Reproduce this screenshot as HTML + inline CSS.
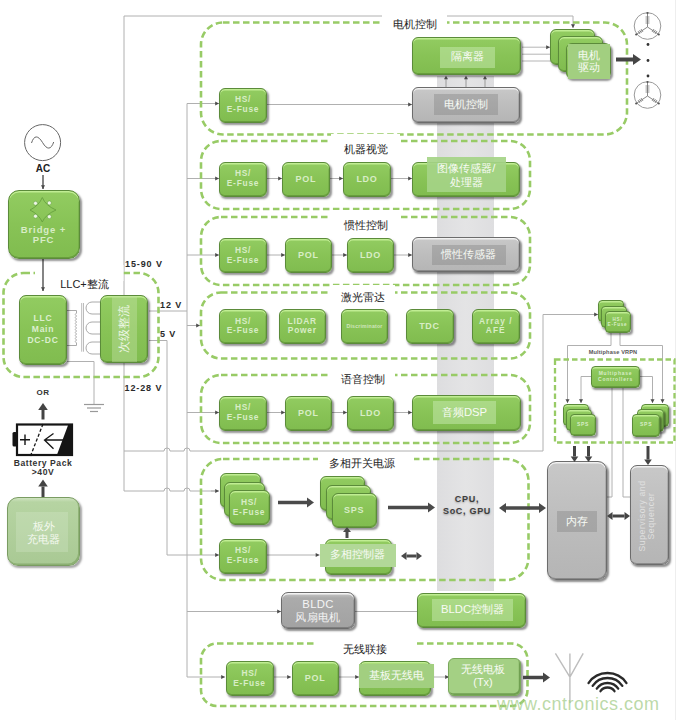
<!DOCTYPE html>
<html><head><meta charset="utf-8"><style>
*{margin:0;padding:0;box-sizing:border-box}
html,body{width:680px;height:720px;overflow:hidden;background:#fff;font-family:"Liberation Sans",sans-serif}
#root{position:relative;width:680px;height:720px;overflow:hidden;background:#fff}
svg{position:absolute;left:0;top:0}
.t{position:absolute;white-space:nowrap;font-family:"Liberation Sans",sans-serif}
.g,.gr,.lgb{position:absolute;display:flex;align-items:center;justify-content:center;text-align:center}
.g{background:linear-gradient(180deg,#92cc61 0%,#88c356 50%,#80bc4f 100%);border:1.5px solid #5b8b3a;box-shadow:inset 0 1.6px 0 rgba(195,238,150,.95),inset -0.5px -1px 0 rgba(60,100,30,.35),1.5px 2px 2px rgba(0,0,0,.42)}
.gr{background:linear-gradient(180deg,#c8c8c8 0%,#bdbdbd 50%,#b5b5b5 100%);border:1.5px solid #6c6c6c;box-shadow:inset 0 1.6px 0 rgba(245,245,245,.9),inset -0.5px -1px 0 rgba(60,60,60,.35),1.5px 2px 2px rgba(0,0,0,.45)}
.lgb{background:linear-gradient(180deg,#cfe3c0 0px,#b6d4a2 4px,#a9c994 100%);border:1px solid #7a9c62;box-shadow:inset -1px -1.5px 0 rgba(110,150,80,.5),1.5px 2px 2px rgba(0,0,0,.35)}
.g span,.gr span,.lgb span{font-weight:bold;color:#d8edc6;line-height:1.16;white-space:nowrap;letter-spacing:0.75px}
.lg,.lgr,.lgf,.lgf2,.lg0,.lgi{position:absolute;display:flex;align-items:center;justify-content:center;text-align:center}
.lg{background:rgba(195,232,170,0.55)}
.lgr{background:rgba(125,125,125,0.36)}
.lgf{background:#a2cf80}
.lgf2{background:#b2d898}
.lgi{background:rgba(165,212,135,0.92)}
.gl{position:absolute;background:#a4d084;border:1px solid #79a85a;box-shadow:inset -1.2px -1.8px 0.5px rgba(70,120,40,.55),1.5px 2px 2px rgba(0,0,0,.4)}
.lg0{background:transparent}
.lg span,.lgr span,.lgf span,.lgf2 span,.lg0 span,.lgi span{color:#f8fbf5;white-space:nowrap;line-height:1.2}
</style></head>
<body><div id="root">
<div style="position:absolute;left:437px;top:76px;width:57px;height:515px;background:linear-gradient(90deg,#dddddf,#e4e4e5 50%,#dedee0);"></div>
<svg width="680" height="720" viewBox="0 0 680 720"><line x1="675.5" y1="0" x2="675.5" y2="720" stroke="#eeeeee" stroke-width="1"/><polyline points="124,16 124,491" fill="none" stroke="#b0b0b0" stroke-width="1"/><polyline points="124,16 573,16 573,28" fill="none" stroke="#b0b0b0" stroke-width="1"/><polygon points="573,28 571.00,24.20 575.00,24.20" fill="#4a4a4a"/><polyline points="187,103.5 187,677" fill="none" stroke="#b0b0b0" stroke-width="1"/><polyline points="187,103.5 219,103.5" fill="none" stroke="#b0b0b0" stroke-width="1"/><polygon points="219,103.5 215.20,105.50 215.20,101.50" fill="#4a4a4a"/><polyline points="267,104.5 412,104.5" fill="none" stroke="#b0b0b0" stroke-width="1"/><polygon points="412,104.5 408.20,106.50 408.20,102.50" fill="#4a4a4a"/><polyline points="187,178.5 219,178.5" fill="none" stroke="#b0b0b0" stroke-width="1"/><polygon points="219,178.5 215.20,180.50 215.20,176.50" fill="#4a4a4a"/><polyline points="267,178.5 282,178.5" fill="none" stroke="#b0b0b0" stroke-width="1"/><polygon points="282,178.5 278.20,180.50 278.20,176.50" fill="#4a4a4a"/><polyline points="330,178.5 343,178.5" fill="none" stroke="#b0b0b0" stroke-width="1"/><polygon points="343,178.5 339.20,180.50 339.20,176.50" fill="#4a4a4a"/><polyline points="391,178.5 412,178.5" fill="none" stroke="#b0b0b0" stroke-width="1"/><polygon points="412,178.5 408.20,180.50 408.20,176.50" fill="#4a4a4a"/><polyline points="187,255 219,255" fill="none" stroke="#b0b0b0" stroke-width="1"/><polygon points="219,255 215.20,257.00 215.20,253.00" fill="#4a4a4a"/><polyline points="267,255 285,255" fill="none" stroke="#b0b0b0" stroke-width="1"/><polygon points="285,255 281.20,257.00 281.20,253.00" fill="#4a4a4a"/><polyline points="332,255 347,255" fill="none" stroke="#b0b0b0" stroke-width="1"/><polygon points="347,255 343.20,257.00 343.20,253.00" fill="#4a4a4a"/><polyline points="394,255 412,255" fill="none" stroke="#b0b0b0" stroke-width="1"/><polygon points="412,255 408.20,257.00 408.20,253.00" fill="#4a4a4a"/><polyline points="187,325.5 200,325.5" fill="none" stroke="#b0b0b0" stroke-width="1"/><polygon points="200,325.5 196.20,327.50 196.20,323.50" fill="#4a4a4a"/><polyline points="187,412.5 219,412.5" fill="none" stroke="#b0b0b0" stroke-width="1"/><polygon points="219,412.5 215.20,414.50 215.20,410.50" fill="#4a4a4a"/><polyline points="267,412.5 285,412.5" fill="none" stroke="#b0b0b0" stroke-width="1"/><polygon points="285,412.5 281.20,414.50 281.20,410.50" fill="#4a4a4a"/><polyline points="332,412.5 347,412.5" fill="none" stroke="#b0b0b0" stroke-width="1"/><polygon points="347,412.5 343.20,414.50 343.20,410.50" fill="#4a4a4a"/><polyline points="394,412.5 412,412.5" fill="none" stroke="#b0b0b0" stroke-width="1"/><polygon points="412,412.5 408.20,414.50 408.20,410.50" fill="#4a4a4a"/><polyline points="149,311 187,311" fill="none" stroke="#b0b0b0" stroke-width="1"/><polyline points="149,340.5 167,340.5 167,555 219,555" fill="none" stroke="#b0b0b0" stroke-width="1"/><polygon points="219,555 215.20,557.00 215.20,553.00" fill="#4a4a4a"/><path d="M124,451 H164 A3,3 0 0 1 170,451 H184 A3,3 0 0 1 190,451 H543 V314.5 H594" fill="none" stroke="#b0b0b0" stroke-width="1"/><polyline points="590,314.5 598,314.5" fill="none" stroke="#b0b0b0" stroke-width="1"/><polygon points="598,314.5 594.20,316.50 594.20,312.50" fill="#4a4a4a"/><path d="M124,491 H164 A3,3 0 0 1 170,491 H184 A3,3 0 0 1 190,491 H215" fill="none" stroke="#b0b0b0" stroke-width="1"/><polyline points="211,491 219,491" fill="none" stroke="#b0b0b0" stroke-width="1"/><polygon points="219,491 215.20,493.00 215.20,489.00" fill="#4a4a4a"/><polyline points="187,611.5 281,611.5" fill="none" stroke="#b0b0b0" stroke-width="1"/><polygon points="281,611.5 277.20,613.50 277.20,609.50" fill="#4a4a4a"/><polyline points="267,555 319.5,555" fill="none" stroke="#b0b0b0" stroke-width="1"/><polygon points="319.5,555 315.70,557.00 315.70,553.00" fill="#4a4a4a"/><polyline points="355,611.5 417,611.5" fill="none" stroke="#b0b0b0" stroke-width="1"/><polyline points="187,677 225,677" fill="none" stroke="#b0b0b0" stroke-width="1"/><polygon points="225,677 221.20,679.00 221.20,675.00" fill="#4a4a4a"/><polyline points="274,677 291,677" fill="none" stroke="#b0b0b0" stroke-width="1"/><polygon points="291,677 287.20,679.00 287.20,675.00" fill="#4a4a4a"/><polyline points="339,677 359,677" fill="none" stroke="#b0b0b0" stroke-width="1"/><polygon points="359,677 355.20,679.00 355.20,675.00" fill="#4a4a4a"/><polyline points="432,677 449,677" fill="none" stroke="#b0b0b0" stroke-width="1"/><polygon points="449,677 445.20,679.00 445.20,675.00" fill="#4a4a4a"/><polyline points="522,47.2 550,47.2" fill="none" stroke="#b5b5b5" stroke-width="1"/><polygon points="550,47.2 546.20,49.20 546.20,45.20" fill="#4a4a4a"/><polyline points="522,54.2 551,54.2" fill="none" stroke="#b5b5b5" stroke-width="1"/><polyline points="522,61 551,61" fill="none" stroke="#b5b5b5" stroke-width="1"/><path d="M67,310.5 H76.5 V313 q-2.5,1.5 0,3 q-2.5,1.5 0,3 q-2.5,1.5 0,3 q-2.5,1.5 0,3 q-2.5,1.5 0,3 q-2.5,1.5 0,3 q-2.5,1.5 0,3 q-2.5,1.5 0,3 q-2.5,1.5 0,3 q-2.5,1.5 0,3 V345.5 H67" fill="none" stroke="#aaa" stroke-width="1"/><path d="M81.7,303 V351.7 M83.5,303 V351.7" stroke="#bbb" stroke-width="1"/><path d="M100,302 H92 A6,6 0 0 0 92,314 H100" fill="none" stroke="#aaa" stroke-width="1"/><path d="M100,322 H92 A6,6 0 0 0 92,334 H100" fill="none" stroke="#aaa" stroke-width="1"/><path d="M100,342 H92 A6,6 0 0 0 92,354 H100" fill="none" stroke="#aaa" stroke-width="1"/><polyline points="67,361.5 94,361.5 94,404" fill="none" stroke="#b0b0b0" stroke-width="1"/><line x1="84" y1="404.5" x2="104" y2="404.5" stroke="#999" stroke-width="1.2"/><line x1="87" y1="408" x2="101" y2="408" stroke="#999" stroke-width="1.2"/><line x1="90" y1="411.5" x2="98" y2="411.5" stroke="#999" stroke-width="1.2"/><polyline points="611,332 611,345.5 567.5,345.5 567.5,403" fill="none" stroke="#b0b0b0" stroke-width="1"/><polygon points="567.5,403 565.50,399.20 569.50,399.20" fill="#4a4a4a"/><polyline points="620,332 620,345.5 662.5,345.5 662.5,403" fill="none" stroke="#b0b0b0" stroke-width="1"/><polygon points="662.5,403 660.50,399.20 664.50,399.20" fill="#4a4a4a"/><polyline points="591,376.5 581,376.5 581,403" fill="none" stroke="#b0b0b0" stroke-width="1"/><polygon points="581,403 579.00,399.20 583.00,399.20" fill="#4a4a4a"/><polyline points="640,376.5 652.5,376.5 652.5,403" fill="none" stroke="#b0b0b0" stroke-width="1"/><polygon points="652.5,403 650.50,399.20 654.50,399.20" fill="#4a4a4a"/><polyline points="612,388 612,497 607,497" fill="none" stroke="#b0b0b0" stroke-width="1"/><polyline points="623,388 623,497 630,497" fill="none" stroke="#b0b0b0" stroke-width="1"/><rect x="201" y="22.5" width="426" height="112" rx="22" ry="22" fill="none" stroke="#98cb66" stroke-width="2.6" stroke-dasharray="6.5 3.5"/><rect x="201" y="141" width="329" height="68" rx="20" ry="20" fill="none" stroke="#98cb66" stroke-width="2.6" stroke-dasharray="6.5 3.5"/><rect x="201" y="217" width="329" height="68" rx="20" ry="20" fill="none" stroke="#98cb66" stroke-width="2.6" stroke-dasharray="6.5 3.5"/><rect x="201" y="292.5" width="329" height="66" rx="20" ry="20" fill="none" stroke="#98cb66" stroke-width="2.6" stroke-dasharray="6.5 3.5"/><rect x="201" y="375" width="329" height="68" rx="20" ry="20" fill="none" stroke="#98cb66" stroke-width="2.6" stroke-dasharray="6.5 3.5"/><rect x="201" y="459" width="327.5" height="121" rx="22" ry="22" fill="none" stroke="#98cb66" stroke-width="2.6" stroke-dasharray="6.5 3.5"/><rect x="201" y="643.5" width="326.5" height="62.5" rx="16" ry="16" fill="none" stroke="#98cb66" stroke-width="2.6" stroke-dasharray="6.5 3.5"/><rect x="3.5" y="273" width="155" height="104" rx="20" ry="20" fill="none" stroke="#98cb66" stroke-width="2.6" stroke-dasharray="6.5 3.5"/><rect x="555" y="359.5" width="119.5" height="83" fill="none" stroke="#98cb66" stroke-width="2.3" stroke-dasharray="5.5 3"/><rect x="382" y="8" width="65" height="26" fill="#fff"/><rect x="331" y="134" width="69" height="16" fill="#fff"/><rect x="331" y="210" width="69" height="16" fill="#fff"/><rect x="331" y="285" width="64" height="16" fill="#fff"/><rect x="331" y="368" width="64" height="16" fill="#fff"/><rect x="318" y="452" width="96" height="16" fill="#fff"/><rect x="315" y="636" width="102" height="16" fill="#fff"/><rect x="35" y="265" width="88.5" height="16" fill="#fff"/><circle cx="42.6" cy="142.6" r="18" fill="#fff" stroke="#666" stroke-width="1"/><path d="M31.5,143 C34,135 38,135 42.6,142.6 C47,150 51,150 53.7,142" fill="none" stroke="#666" stroke-width="1"/><polyline points="43,175 43,189" fill="none" stroke="#333" stroke-width="1.2"/><polygon points="43,189 41.00,185.20 45.00,185.20" fill="#4a4a4a"/><polyline points="43,259 43,291" fill="none" stroke="#333" stroke-width="1.2"/><polygon points="43,291 41.00,287.20 45.00,287.20" fill="#4a4a4a"/><rect x="17" y="424.5" width="55" height="30.5" fill="#fff" stroke="#151515" stroke-width="2.2"/><polygon points="68.5,424 73,424 73,456 56.5,456" fill="#151515"/><rect x="12.5" y="432" width="4.5" height="14.5" rx="1.5" fill="#151515"/><path d="M20,439.7 H30 M25,434.5 V445" stroke="#151515" stroke-width="1.4" fill="none"/><path d="M43,424 L30.5,456" stroke="#151515" stroke-width="1.3" stroke-dasharray="3.2 2" fill="none"/><path d="M53.5,433.5 L44.5,440 L53.5,448.7 M44.5,440 H63" stroke="#151515" stroke-width="1.3" fill="none"/><circle cx="647.5" cy="26" r="13.3" fill="none" stroke="#9a9a9a" stroke-width="1"/><path d="M647.5,27 V13 M647.5,27 L636.2,34.5 M647.5,27 L658.8,34.5" stroke="#888" stroke-width="1"/><path d="M645.5,17 h4 M645.5,19 h4 M645.5,21 h4 M645.5,23 h4" stroke="#777" stroke-width="0.8"/><path d="M641,29 l2,3 M639.5,30 l2,3 M638,31 l2,3 M654,29 l-2,3 M655.5,30 l-2,3 M657,31 l-2,3" stroke="#777" stroke-width="0.8"/><circle cx="647.5" cy="13" r="1.1" fill="#555"/><circle cx="636.2" cy="34.5" r="1.1" fill="#555"/><circle cx="658.8" cy="34.5" r="1.1" fill="#555"/><circle cx="647.5" cy="95" r="13.3" fill="none" stroke="#9a9a9a" stroke-width="1"/><path d="M647.5,96 V82 M647.5,96 L636.2,103.5 M647.5,96 L658.8,103.5" stroke="#888" stroke-width="1"/><path d="M645.5,86 h4 M645.5,88 h4 M645.5,90 h4 M645.5,92 h4" stroke="#777" stroke-width="0.8"/><path d="M641,98 l2,3 M639.5,99 l2,3 M638,100 l2,3 M654,98 l-2,3 M655.5,99 l-2,3 M657,100 l-2,3" stroke="#777" stroke-width="0.8"/><circle cx="647.5" cy="82" r="1.1" fill="#555"/><circle cx="636.2" cy="103.5" r="1.1" fill="#555"/><circle cx="658.8" cy="103.5" r="1.1" fill="#555"/><circle cx="648" cy="44.5" r="1.4" fill="#333"/><circle cx="648" cy="60.5" r="1.4" fill="#333"/><circle cx="648" cy="76" r="1.4" fill="#333"/><path d="M569.9,703 V653.4 M555.4,653.4 L569.9,677 L583.2,653.4" stroke="#bdbdbd" stroke-width="1.4" fill="none"/><path d="M588.50,683.04 A23,23 0 0 1 626.50,683.04" stroke="#2a2a2a" stroke-width="2.3" fill="none" stroke-linecap="round"/><path d="M592.63,685.86 A18,18 0 0 1 622.37,685.86" stroke="#2a2a2a" stroke-width="2.3" fill="none" stroke-linecap="round"/><path d="M596.76,688.67 A13,13 0 0 1 618.24,688.67" stroke="#2a2a2a" stroke-width="2.3" fill="none" stroke-linecap="round"/><path d="M600.48,691.21 A8.5,8.5 0 0 1 614.52,691.21" stroke="#2a2a2a" stroke-width="2.3" fill="none" stroke-linecap="round"/></svg>
<div class="t" style="left:23px;top:163px;font-size:10px;width:40px;text-align:center;font-weight:bold;color:#222;">AC</div><div class="g" style="left:7.5px;top:190px;width:72px;height:69px;border-radius:11px;"><span style="font-size:8.4px;"></span></div><div class="t" style="left:7.5px;top:224.5px;font-size:9.5px;width:72px;text-align:center;font-weight:bold;color:#d8edc6;line-height:10.5px;letter-spacing:0.9px;">Bridge +<br>PFC</div><div class="g" style="left:19px;top:294.5px;width:48px;height:70px;border-radius:7px;"><span style="font-size:8.5px;line-height:11px;color:#dcefcf">LLC<br>Main<br>DC-DC</span></div><div class="g" style="left:100px;top:295px;width:48px;height:68px;border-radius:7px;"><span style="font-size:8.4px;"></span></div><div style="position:absolute;left:112px;top:296px;width:25px;height:66px;background:rgba(190,225,160,0.45);"></div><div class="t" style="left:94px;top:321px;width:60px;height:16px;font-size:12px;color:#eef7e6;text-align:center;transform:rotate(-90deg);">次级整流</div><div class="t" style="left:59px;top:277px;font-size:11px;width:51px;text-align:center;color:#222;">LLC+整流</div><div class="t" style="left:125px;top:259px;font-size:9px;text-align:left;font-weight:bold;color:#2a2a2a;letter-spacing:0.9px;">15-90 V</div><div class="t" style="left:160px;top:300px;font-size:9px;text-align:left;font-weight:bold;color:#2a2a2a;letter-spacing:0.9px;">12 V</div><div class="t" style="left:160px;top:329px;font-size:9px;text-align:left;font-weight:bold;color:#2a2a2a;letter-spacing:0.9px;">5 V</div><div class="t" style="left:124.5px;top:382.5px;font-size:9px;text-align:left;font-weight:bold;color:#2a2a2a;letter-spacing:0.9px;">12-28 V</div><div class="t" style="left:23px;top:388px;font-size:8px;width:40px;text-align:center;font-weight:bold;color:#333;letter-spacing:0.6px;">OR</div><div class="t" style="left:0px;top:458.5px;font-size:8.6px;width:86px;text-align:center;font-weight:bold;color:#333;line-height:9.5px;letter-spacing:0.55px;">Battery Pack<br>&gt;40V</div><div class="lgb" style="left:7px;top:497px;width:73px;height:69px;border-radius:11px;"><span style="font-size:8.4px;"></span></div><div style="position:absolute;left:16px;top:512px;width:52px;height:40px;background:rgba(225,238,215,0.25);"></div><div class="t" style="left:7px;top:519.5px;font-size:11.3px;width:73px;text-align:center;color:#f4f9ef;line-height:13.5px;">板外<br>充电器</div><div class="g" style="left:219px;top:87.5px;width:48px;height:35px;border-radius:6px;"><span style="font-size:8.4px;">HS/<br>E-Fuse</span></div><div class="g" style="left:412px;top:37px;width:109px;height:38px;border-radius:6px;"><span style="font-size:8.4px;"></span></div><div class="lg" style="left:439.5px;top:46.5px;width:55.5px;height:21px;"><span style="font-size:11.3px;">隔离器</span></div><div class="gr" style="left:412px;top:87px;width:108px;height:35.5px;border-radius:6px;"><span style="font-size:8.4px;"></span></div><div class="lgr" style="left:434px;top:94px;width:64px;height:21px;"><span style="font-size:11.3px;">电机控制</span></div><div class="g" style="left:550.0px;top:29.0px;width:45px;height:36px;border-radius:6px;"><span style="font-size:8.4px;"></span></div><div class="g" style="left:557.8px;top:36.2px;width:45px;height:36px;border-radius:6px;"><span style="font-size:8.4px;"></span></div><div class="g" style="left:565.6px;top:43.4px;width:45px;height:36px;border-radius:6px;"><span style="font-size:8.4px;"></span></div><div class="lgf" style="left:567.5px;top:43.5px;width:42px;height:35px;"><span style="font-size:11px;line-height:12.4px">电机<br>驱动</span></div><div class="t" style="left:382px;top:16.5px;font-size:11px;width:65px;text-align:center;color:#222;">电机控制</div><div class="g" style="left:219px;top:161.5px;width:48px;height:35px;border-radius:6px;"><span style="font-size:8.4px;">HS/<br>E-Fuse</span></div><div class="g" style="left:282px;top:161.5px;width:48px;height:35px;border-radius:6px;"><span style="font-size:9px;">POL</span></div><div class="g" style="left:343px;top:161.5px;width:48px;height:35px;border-radius:6px;"><span style="font-size:9px;">LDO</span></div><div class="g" style="left:412px;top:161.5px;width:108px;height:35px;border-radius:6px;"><span style="font-size:8.4px;"></span></div><div class="lgi" style="left:427px;top:157px;width:78.5px;height:35px;"><span style="font-size:11.3px;line-height:14px">图像传感器/<br>处理器</span></div><div class="t" style="left:331px;top:141.5px;font-size:11px;width:69px;text-align:center;color:#222;">机器视觉</div><div class="g" style="left:219px;top:238px;width:48px;height:35px;border-radius:6px;"><span style="font-size:8.4px;">HS/<br>E-Fuse</span></div><div class="g" style="left:285px;top:238px;width:47px;height:35px;border-radius:6px;"><span style="font-size:9px;">POL</span></div><div class="g" style="left:347px;top:238px;width:47px;height:35px;border-radius:6px;"><span style="font-size:9px;">LDO</span></div><div class="gr" style="left:412px;top:237px;width:108px;height:35px;border-radius:6px;"><span style="font-size:8.4px;"></span></div><div class="lgr" style="left:432px;top:245px;width:73.5px;height:20px;"><span style="font-size:11.3px;">惯性传感器</span></div><div class="t" style="left:331px;top:218px;font-size:11px;width:69px;text-align:center;color:#222;">惯性控制</div><div class="g" style="left:219px;top:309px;width:48px;height:34.5px;border-radius:6px;"><span style="font-size:8.4px;">HS/<br>E-Fuse</span></div><div class="g" style="left:278.5px;top:309px;width:47.5px;height:34.5px;border-radius:6px;"><span style="font-size:8.4px;">LIDAR<br>Power</span></div><div class="g" style="left:341px;top:309px;width:47px;height:34.5px;border-radius:6px;"><span style="font-size:5.2px;letter-spacing:0.2px;color:#cfe6bd">Discriminator</span></div><div class="g" style="left:405.5px;top:309px;width:48px;height:34.5px;border-radius:6px;"><span style="font-size:9px;">TDC</span></div><div class="g" style="left:472px;top:309px;width:47.5px;height:34.5px;border-radius:6px;"><span style="font-size:8.4px;letter-spacing:1px">Array /<br>AFE</span></div><div class="t" style="left:331px;top:290px;font-size:11px;width:64px;text-align:center;color:#222;">激光雷达</div><div class="g" style="left:219px;top:395.5px;width:48px;height:35px;border-radius:6px;"><span style="font-size:8.4px;">HS/<br>E-Fuse</span></div><div class="g" style="left:285px;top:395.5px;width:47px;height:35px;border-radius:6px;"><span style="font-size:9px;">POL</span></div><div class="g" style="left:347px;top:395.5px;width:47px;height:35px;border-radius:6px;"><span style="font-size:9px;">LDO</span></div><div class="g" style="left:411.5px;top:394.5px;width:109px;height:36px;border-radius:6px;"><span style="font-size:8.4px;"></span></div><div class="lg" style="left:433px;top:401px;width:63px;height:23px;"><span style="font-size:11.3px;">音频DSP</span></div><div class="t" style="left:331px;top:371.5px;font-size:11px;width:64px;text-align:center;color:#222;">语音控制</div><div class="g" style="left:219.5px;top:473.0px;width:41px;height:35px;border-radius:6px;"><span style="font-size:8.4px;"></span></div><div class="g" style="left:224.0px;top:481.5px;width:41px;height:35px;border-radius:6px;"><span style="font-size:8.4px;"></span></div><div class="g" style="left:228.5px;top:490.0px;width:41px;height:35px;border-radius:6px;"><span style="font-size:8.4px;">HS/<br>E-Fuse</span></div><div class="g" style="left:219px;top:538.5px;width:48px;height:35px;border-radius:6px;"><span style="font-size:8.4px;">HS/<br>E-Fuse</span></div><div class="g" style="left:320px;top:476.0px;width:44.5px;height:35px;border-radius:6px;"><span style="font-size:9px;"></span></div><div class="g" style="left:326px;top:484.5px;width:44.5px;height:35px;border-radius:6px;"><span style="font-size:9px;"></span></div><div class="g" style="left:332px;top:493.0px;width:44.5px;height:35px;border-radius:6px;"><span style="font-size:9px;">SPS</span></div><div class="g" style="left:324.5px;top:539px;width:67.5px;height:35.5px;border-radius:6px;"><span style="font-size:8.4px;"></span></div><div class="lgf2" style="left:319.5px;top:543.5px;width:76px;height:23.5px;"><span style="font-size:11.3px;">多相控制器</span></div><div class="t" style="left:314px;top:455.5px;font-size:11px;width:96px;text-align:center;color:#222;">多相开关电源</div><div class="t" style="left:428px;top:494px;font-size:9px;width:78px;text-align:center;font-weight:bold;color:#3e3e3e;line-height:11.5px;letter-spacing:0.7px;text-shadow:0 1px 2px rgba(0,0,0,.3);">CPU,<br>SoC, GPU</div><div class="g" style="left:597.5px;top:300.0px;width:26px;height:22px;border-radius:4px;"><span style="font-size:4.6px;"></span></div><div class="g" style="left:601.0px;top:305.5px;width:26px;height:22px;border-radius:4px;"><span style="font-size:4.6px;"></span></div><div class="g" style="left:604.5px;top:311.0px;width:26px;height:22px;border-radius:4px;"><span style="font-size:4.6px;">HS/<br>E-Fuse</span></div><div class="t" style="left:578px;top:348.5px;font-size:5.6px;width:70px;text-align:center;font-weight:bold;color:#555;letter-spacing:0.15px;">Multiphase VRPN</div><div class="g" style="left:591px;top:366px;width:49px;height:21.5px;border-radius:4px;"><span style="font-size:5px;">Multiphase<br>Controllers</span></div><div class="g" style="left:562.5px;top:404px;width:26px;height:22px;border-radius:4px;"><span style="font-size:5px;"></span></div><div class="g" style="left:566.3px;top:409px;width:26px;height:22px;border-radius:4px;"><span style="font-size:5px;"></span></div><div class="g" style="left:570.1px;top:414px;width:26px;height:22px;border-radius:4px;"><span style="font-size:5px;">SPS</span></div><div class="g" style="left:641px;top:404px;width:27.5px;height:22.5px;border-radius:4px;"><span style="font-size:5px;"></span></div><div class="g" style="left:636.7px;top:409px;width:27.5px;height:22.5px;border-radius:4px;"><span style="font-size:5px;"></span></div><div class="g" style="left:632.4px;top:414px;width:27.5px;height:22.5px;border-radius:4px;"><span style="font-size:5px;">SPS</span></div><div class="gr" style="left:547px;top:461px;width:60px;height:119px;border-radius:9px;"><span style="font-size:8.4px;"></span></div><div class="lgr" style="left:556.5px;top:511px;width:40.5px;height:21px;"><span style="font-size:11.3px;">内存</span></div><div class="gr" style="left:630px;top:465px;width:39px;height:100px;border-radius:7px;"><span style="font-size:8.4px;"></span></div><div class="t" style="left:598px;top:505.5px;width:100px;height:20px;font-size:8.6px;line-height:9px;color:#e0e0e0;text-align:center;letter-spacing:0.6px;transform:rotate(-90deg);">Supervisory and<br>Sequencer</div><div class="gr" style="left:281px;top:592px;width:74px;height:37px;border-radius:7px;background:linear-gradient(180deg,#dadada 0px,#bcbcbc 2px,#ababab 5px,#a6a6a6 60%,#a2a2a2 100%);"><span style="font-size:11.3px;font-weight:normal;line-height:13px;color:#f4f4f4;letter-spacing:0.3px">BLDC<br>风扇电机</span></div><div class="g" style="left:417px;top:592.5px;width:108.5px;height:35px;border-radius:6px;"><span style="font-size:8.4px;"></span></div><div class="lg" style="left:432px;top:598.5px;width:81px;height:22.5px;"><span style="font-size:11.3px;">BLDC控制器</span></div><div class="g" style="left:225.5px;top:661px;width:48px;height:35px;border-radius:6px;"><span style="font-size:8.4px;">HS/<br>E-Fuse</span></div><div class="g" style="left:291.5px;top:661px;width:47.5px;height:35px;border-radius:6px;"><span style="font-size:9px;">POL</span></div><div class="g" style="left:359px;top:661px;width:72px;height:35px;border-radius:6px;"><span style="font-size:8.4px;"></span></div><div class="lgf" style="left:359px;top:663.5px;width:74.5px;height:24.5px;"><span style="font-size:11px;">基板无线电</span></div><div class="gl" style="left:448px;top:658px;width:72.5px;height:37.5px;border-radius:6px;"><span style="font-size:8.4px;"></span></div><div class="lg0" style="left:449px;top:659px;width:68px;height:34px;"><span style="font-size:11px;line-height:13.5px">无线电板<br>(Tx)</span></div><div class="t" style="left:325px;top:641.5px;font-size:11px;width:80px;text-align:center;color:#222;">无线联接</div><div class="t" style="left:497px;top:694px;font-size:18px;line-height:20px;color:rgba(165,205,140,0.75);letter-spacing:0.5px;">www.cntronics.com</div>
<svg width="680" height="720" viewBox="0 0 680 720" style="pointer-events:none"><path d="M42.3,197.5 Q45.5,205.5 56,210 Q45.5,214.5 42.3,222 Q39,214.5 30,210 Q39,205.5 42.3,197.5 Z" fill="none" stroke="#66a040" stroke-width="0.9"/><circle cx="35.5" cy="203.3" r="2" fill="#eef6e6" stroke="#5f9c3c" stroke-width="0.5"/><circle cx="49.3" cy="202.9" r="2" fill="#eef6e6" stroke="#5f9c3c" stroke-width="0.5"/><circle cx="35.5" cy="216.2" r="2" fill="#eef6e6" stroke="#5f9c3c" stroke-width="0.5"/><circle cx="49.3" cy="216.7" r="2" fill="#eef6e6" stroke="#5f9c3c" stroke-width="0.5"/><line x1="43.00" y1="419.50" x2="43.00" y2="410.00" stroke="#444" stroke-width="3"/><polygon points="43.00,403.00 47.80,410.00 38.20,410.00" fill="#444"/><line x1="43.00" y1="497.00" x2="43.00" y2="486.50" stroke="#444" stroke-width="3"/><polygon points="43.00,479.50 47.80,486.50 38.20,486.50" fill="#444"/><polyline points="446,87 446,75.5" fill="none" stroke="#a5a5a5" stroke-width="1.2"/><polygon points="446,75.5 448.00,79.30 444.00,79.30" fill="#4a4a4a"/><polyline points="466,87 466,75.5" fill="none" stroke="#a5a5a5" stroke-width="1.2"/><polygon points="466,75.5 468.00,79.30 464.00,79.30" fill="#4a4a4a"/><polyline points="485,87 485,75.5" fill="none" stroke="#a5a5a5" stroke-width="1.2"/><polygon points="485,75.5 487.00,79.30 483.00,79.30" fill="#4a4a4a"/><line x1="616.00" y1="59.50" x2="633.00" y2="59.50" stroke="#454545" stroke-width="4"/><polygon points="641.00,59.50 633.00,65.00 633.00,54.00" fill="#454545"/><line x1="278.00" y1="502.50" x2="307.00" y2="502.50" stroke="#4a4a4a" stroke-width="3.5"/><polygon points="314.00,502.50 307.00,507.50 307.00,497.50" fill="#4a4a4a"/><line x1="347.00" y1="538.00" x2="347.00" y2="532.00" stroke="#4a4a4a" stroke-width="3"/><polygon points="347.00,527.00 351.00,532.00 343.00,532.00" fill="#4a4a4a"/><line x1="406.50" y1="556.00" x2="416.50" y2="556.00" stroke="#4a4a4a" stroke-width="3"/><polygon points="422.00,556.00 416.50,560.00 416.50,552.00" fill="#4a4a4a"/><polygon points="401.00,556.00 406.50,552.00 406.50,560.00" fill="#4a4a4a"/><line x1="388.00" y1="507.50" x2="428.00" y2="507.50" stroke="#4a4a4a" stroke-width="3.5"/><polygon points="435.00,507.50 428.00,512.50 428.00,502.50" fill="#4a4a4a"/><line x1="506.00" y1="508.00" x2="539.00" y2="508.00" stroke="#4a4a4a" stroke-width="3.5"/><polygon points="546.00,508.00 539.00,513.00 539.00,503.00" fill="#4a4a4a"/><polygon points="499.00,508.00 506.00,503.00 506.00,513.00" fill="#4a4a4a"/><line x1="574.50" y1="446.00" x2="574.50" y2="456.50" stroke="#444" stroke-width="3"/><polygon points="574.50,462.00 570.70,456.50 578.30,456.50" fill="#444"/><line x1="588.50" y1="446.00" x2="588.50" y2="456.50" stroke="#444" stroke-width="3"/><polygon points="588.50,462.00 584.70,456.50 592.30,456.50" fill="#444"/><line x1="648.00" y1="446.00" x2="648.00" y2="459.50" stroke="#444" stroke-width="3"/><polygon points="648.00,465.00 644.20,459.50 651.80,459.50" fill="#444"/><line x1="612.50" y1="516.00" x2="624.50" y2="516.00" stroke="#444" stroke-width="3"/><polygon points="630.00,516.00 624.50,520.00 624.50,512.00" fill="#444"/><polygon points="607.00,516.00 612.50,512.00 612.50,520.00" fill="#444"/><line x1="523.00" y1="677.50" x2="543.00" y2="677.50" stroke="#454545" stroke-width="3.5"/><polygon points="550.00,677.50 543.00,682.50 543.00,672.50" fill="#454545"/></svg>
</div></body></html>
